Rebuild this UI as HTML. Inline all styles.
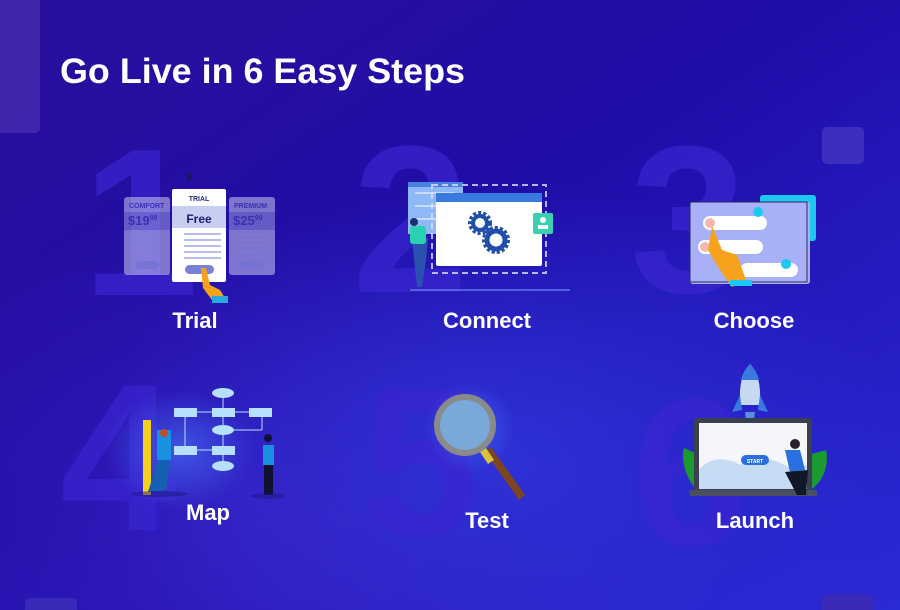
<!DOCTYPE html>
<html><head><meta charset="utf-8"><style>
html,body{margin:0;padding:0;}
body{width:900px;height:610px;overflow:hidden;background:#1d0aa6;}
svg{display:block;font-family:"Liberation Sans",sans-serif;}
</style></head><body>
<svg width="900" height="610" viewBox="0 0 900 610" xmlns="http://www.w3.org/2000/svg">
<defs>
<linearGradient id="bg" x1="0" y1="0" x2="1" y2="1">
<stop offset="0" stop-color="#2a0f9c"/><stop offset="0.45" stop-color="#1f0da8"/><stop offset="1" stop-color="#2a2ad6"/>
</linearGradient>
<radialGradient id="gl1" cx="0.3" cy="0.85" r="0.5"><stop offset="0" stop-color="#3a1fc0" stop-opacity="0.8"/><stop offset="1" stop-color="#3a1fc0" stop-opacity="0"/></radialGradient>
<radialGradient id="gl2" cx="0.55" cy="0.75" r="0.45"><stop offset="0" stop-color="#2f3ae0" stop-opacity="0.7"/><stop offset="1" stop-color="#2f3ae0" stop-opacity="0"/></radialGradient>
<radialGradient id="halo" cx="0.5" cy="0.5" r="0.5"><stop offset="0" stop-color="#4a78ff" stop-opacity="0.6"/><stop offset="1" stop-color="#4a78ff" stop-opacity="0"/></radialGradient>
</defs>
<rect width="900" height="610" fill="url(#bg)"/>
<rect width="900" height="610" fill="url(#gl1)"/>
<rect width="900" height="610" fill="url(#gl2)"/>
<rect x="-10" y="-10" width="50" height="143" rx="5" fill="#4a2fb0" opacity="0.7"/>
<rect x="822" y="127" width="42" height="37" rx="5" fill="#3d2ec0"/>
<rect x="25" y="598" width="52" height="20" rx="5" fill="#3a2ab8"/>
<rect x="822" y="594" width="52" height="20" rx="5" fill="#3a2ab8"/>
<g font-weight="bold" font-size="210" fill="#3a25d0" opacity="0.7">
<text x="82" y="295">1</text>
<text x="352" y="292">2</text>
<text x="630" y="292">3</text>
<text x="60" y="530">4</text>
<text x="362" y="535">5</text>
<text x="632" y="545">6</text>
</g>
<text x="60" y="83" font-size="35" font-weight="bold" fill="#fff" textLength="405" lengthAdjust="spacingAndGlyphs">Go Live in 6 Easy Steps</text>
<g font-size="22" font-weight="bold" fill="#fff" text-anchor="middle">
<text x="195" y="328">Trial</text>
<text x="487" y="328">Connect</text>
<text x="754" y="328">Choose</text>
<text x="208" y="520">Map</text>
<text x="487" y="528">Test</text>
<text x="755" y="528">Launch</text>
</g>
<text x="185" y="181" font-size="13" font-weight="bold" fill="#15155a">9</text>
<g opacity="0.55">
<rect x="124" y="197" width="46" height="78" rx="3" fill="#c8c8f0"/>
<rect x="124" y="212" width="46" height="18" fill="#9a9ae0"/>
<rect x="229" y="197" width="46" height="78" rx="3" fill="#c8c8f0"/>
<rect x="229" y="212" width="46" height="18" fill="#9a9ae0"/>
</g>
<g font-weight="bold" fill="#3a30b0">
<text x="129" y="208" font-size="7">COMFORT</text>
<text x="128" y="225" font-size="13">$19<tspan font-size="7" dy="-5">99</tspan></text>
<text x="234" y="208" font-size="7">PREMIUM</text>
<text x="233" y="225" font-size="13">$25<tspan font-size="7" dy="-5">99</tspan></text>
</g>
<rect x="135" y="261" width="24" height="8" rx="4" fill="#7070d0" opacity="0.6"/>
<rect x="240" y="261" width="24" height="8" rx="4" fill="#7070d0" opacity="0.6"/>
<g stroke="#8080d0" stroke-width="1.5" opacity="0.6">
<line x1="131" y1="234" x2="165" y2="234"/><line x1="131" y1="240" x2="165" y2="240"/><line x1="131" y1="246" x2="165" y2="246"/><line x1="131" y1="252" x2="165" y2="252"/>
<line x1="236" y1="234" x2="270" y2="234"/><line x1="236" y1="240" x2="270" y2="240"/><line x1="236" y1="246" x2="270" y2="246"/><line x1="236" y1="252" x2="270" y2="252"/>
</g>
<rect x="172" y="189" width="54" height="93" rx="2" fill="#fff"/>
<rect x="172" y="206" width="54" height="22" fill="#c8cdf2"/>
<text x="199" y="201" font-size="7" font-weight="bold" fill="#2a2a90" text-anchor="middle">TRIAL</text>
<text x="199" y="223" font-size="12" font-weight="bold" fill="#1d1d70" text-anchor="middle">Free</text>
<g stroke="#9aa6e6" stroke-width="1.5">
<line x1="184" y1="234" x2="221" y2="234"/><line x1="184" y1="240" x2="221" y2="240"/><line x1="184" y1="246" x2="221" y2="246"/><line x1="184" y1="252" x2="221" y2="252"/><line x1="184" y1="258" x2="221" y2="258"/>
</g>
<rect x="185" y="265" width="29" height="9" rx="4.5" fill="#7a80d8"/>
<path d="M201 268 L206 268 L210 285 L220 290 L225 298 L212 300 L203 288 Z" fill="#f7a21b"/>
<rect x="212" y="296" width="16" height="7" fill="#2aa8e0"/>
<rect x="408" y="182" width="55" height="52" fill="#8fb8f8"/>
<rect x="408" y="182" width="55" height="5" fill="#4a80e0"/>
<g stroke="#fff" stroke-width="1"><line x1="415" y1="193" x2="455" y2="193"/><line x1="415" y1="206" x2="455" y2="206"/><line x1="415" y1="219" x2="455" y2="219"/></g>
<rect x="436" y="193" width="106" height="73" rx="2" fill="#fff"/>
<rect x="436" y="193" width="106" height="9" fill="#3a7ae0"/>
<rect x="432" y="185" width="114" height="88" fill="none" stroke="#d8e0ff" stroke-width="2" stroke-dasharray="6 4" opacity="0.8"/>
<circle cx="480" cy="223" r="10" fill="none" stroke="#1f4fa8" stroke-width="4" stroke-dasharray="3 2"/>
<circle cx="480" cy="223" r="7" fill="none" stroke="#1f4fa8" stroke-width="4"/>
<circle cx="496" cy="240" r="12" fill="none" stroke="#1f4fa8" stroke-width="4" stroke-dasharray="3 2"/>
<circle cx="496" cy="240" r="9" fill="none" stroke="#1f4fa8" stroke-width="5"/>
<rect x="533" y="213" width="20" height="21" rx="2" fill="#3acfb0"/>
<circle cx="543" cy="220" r="3" fill="#fff"/><rect x="538" y="225" width="10" height="4" fill="#fff"/>
<path d="M412 238 L428 238 L426 260 L422 287 L417 287 L414 260 Z" fill="#2a50b0"/>
<rect x="410" y="226" width="16" height="18" rx="3" fill="#2ad0b0"/>
<circle cx="414" cy="222" r="4" fill="#1a3070"/>
<line x1="410" y1="290" x2="570" y2="290" stroke="#7aa0ff" stroke-width="1"/>
<rect x="760" y="195" width="56" height="46" rx="3" fill="#1dc8f0"/>
<rect x="690" y="202" width="120" height="82" rx="3" fill="#a8b0f8"/>
<rect x="690" y="202" width="117" height="80" fill="none" stroke="#2a2a60" stroke-width="1"/>
<rect x="703" y="216" width="64" height="14" rx="7" fill="#fff"/>
<rect x="698" y="240" width="65" height="14" rx="7" fill="#fff"/>
<rect x="740" y="263" width="58" height="14" rx="7" fill="#fff"/>
<circle cx="710" cy="223" r="5" fill="#f4b8b0"/><circle cx="705" cy="247" r="5" fill="#f4b8b0"/>
<circle cx="758" cy="212" r="5" fill="#1dc8f0"/><circle cx="786" cy="264" r="5" fill="#1dc8f0"/>
<path d="M712 226 L722 250 L737 255 L746 280 L732 287 L720 270 L708 250 Z" fill="#f7a21b"/>
<rect x="730" y="280" width="22" height="6" fill="#1dc8f0"/>
<ellipse cx="180" cy="450" rx="75" ry="60" fill="url(#halo)"/>
<g fill="#b6e0ff">
<ellipse cx="223" cy="393" rx="11" ry="5"/>
<rect x="174" y="408" width="23" height="9"/><rect x="212" y="408" width="23" height="9"/><rect x="249" y="408" width="23" height="9"/>
<ellipse cx="223" cy="430" rx="11" ry="5"/>
<rect x="174" y="446" width="23" height="9"/><rect x="212" y="446" width="23" height="9"/>
<ellipse cx="223" cy="466" rx="11" ry="5"/>
</g>
<g stroke="#b6e0ff" stroke-width="1"><line x1="223" y1="393" x2="223" y2="466"/><line x1="197" y1="412" x2="249" y2="412"/><line x1="185" y1="412" x2="185" y2="450"/><line x1="197" y1="450" x2="212" y2="450"/><line x1="262" y1="417" x2="262" y2="430"/><line x1="234" y1="430" x2="262" y2="430"/></g>
<rect x="143" y="420" width="8" height="75" fill="#f5d020"/>
<rect x="157" y="430" width="14" height="30" fill="#1a90e0"/>
<path d="M158 460 L170 460 L166 490 L148 492 Z" fill="#1560b0"/>
<circle cx="164" cy="433" r="4" fill="#c05020"/>
<ellipse cx="160" cy="494" rx="28" ry="3" fill="#1a1580" opacity="0.5"/>
<rect x="263" y="445" width="11" height="20" fill="#1a90e0"/>
<rect x="264" y="465" width="9" height="30" fill="#101030"/>
<circle cx="268" cy="438" r="4" fill="#101030"/>
<ellipse cx="268" cy="496" rx="17" ry="3" fill="#1a1580" opacity="0.5"/>
<ellipse cx="470" cy="428" rx="45" ry="45" fill="url(#halo)"/>
<path d="M491 447 L525 495 L519 500 L485 452 Z" fill="#7a4520"/>
<path d="M486 448 L494 460 L488 464 L480 452 Z" fill="#d8c040"/>
<circle cx="465" cy="425" r="28" fill="#7aa8d8" stroke="#8a8a8a" stroke-width="6"/>
<path d="M750 364 C742 372 739 385 740 405 L760 405 C761 385 758 372 750 364 Z" fill="#c8d8f0"/>
<path d="M740 395 L732 412 L742 410 Z M760 395 L768 412 L758 410 Z" fill="#3a7ae0"/>
<path d="M750 364 C744 370 742 376 741 380 L759 380 C758 376 756 370 750 364 Z" fill="#3a7ae0"/>
<path d="M745 412 L755 412 L753 430 L747 430 Z" fill="#5a8ee0"/>
<path d="M684 448 C680 465 690 485 698 490 L700 455 Z M826 450 C830 468 820 485 810 490 L808 455 Z" fill="#1a9a30"/>
<rect x="694" y="418" width="118" height="75" rx="3" fill="#3a4050"/>
<rect x="699" y="423" width="108" height="66" fill="#f4f6fb"/>
<path d="M699 470 C710 455 730 458 740 465 C755 455 775 458 790 468 L807 465 L807 489 L699 489 Z" fill="#c6dcf5"/>
<rect x="741" y="455" width="28" height="10" rx="5" fill="#2a70e0"/>
<text x="755" y="463" font-size="5" font-weight="bold" fill="#fff" text-anchor="middle">START</text>
<rect x="689" y="490" width="128" height="6" rx="2" fill="#4a5060"/>
<path d="M785 450 L800 450 L805 470 L790 472 Z" fill="#2a70e0"/>
<path d="M785 472 L808 470 L806 495 L797 495 Z" fill="#101828"/>
<circle cx="795" cy="444" r="5" fill="#2a2030"/>
</svg>
</body></html>
